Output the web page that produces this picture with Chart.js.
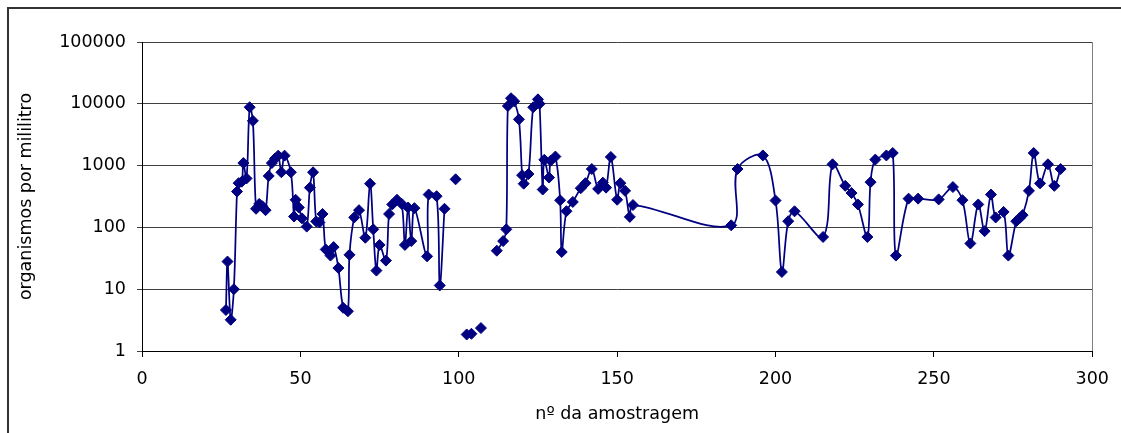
<!DOCTYPE html>
<html>
<head>
<meta charset="utf-8">
<script src="https://cdn.jsdelivr.net/npm/chart.js@4.4.1/dist/chart.umd.min.js"></script>
<style>
  html, body { margin: 0; padding: 0; background: #fff; }
  #wrap { position: relative; width: 1121px; height: 433px; overflow: hidden; }
  #frame { position: absolute; left: 7px; top: 7px; width: 1200px; height: 500px;
           border-top: 2px solid #333; border-left: 2px solid #333; }
  canvas { position: absolute; left: 0; top: 0; }
</style>
</head>
<body>
<div id="wrap">
  <div id="frame"></div>
  <canvas id="grafico" width="1121" height="433"></canvas>
</div>
<script>
// nº da amostragem (null em organismos = sem dado, a linha é interrompida)
const amostra = [
  26.5, 27, 28, 29, 30, 30.5, 31.5, 32, 33, 34, 35, 36, 37, 38, 39, 40, 41, 42, 43, 44,
  45, 47, 48, 48.5, 49.5, 50.5, 52, 53, 54, 55, 56, 57, 58, 59.5, 60.5, 62, 63.5, 65, 65.5, 67,
  68.5, 70.5, 72, 73, 74, 75, 77, 78, 79, 80.5, 82, 83, 84, 85, 86, 90, 90.5, 93, 94, 95.5,
  97, 99, 101, 102.5, 103.3, 104, 105.5, 107, 109.5,
  112, 114, 115, 115.5, 116.5, 117.5, 119, 120, 120.5, 122, 123.5, 125, 125.5, 126.5, 127, 128.5, 129, 130.5, 132, 132.5,
  134, 136, 138.5, 140, 142, 144, 145.5, 146.5, 148, 150, 151, 152.5, 154, 155, 186, 188, 196, 200, 202, 204,
  206, 215, 218, 222, 224, 226, 229, 230, 231.5, 235, 237, 238, 242, 245, 251.5, 256, 259, 261.5, 264, 266,
  268, 269.5, 272, 273.5, 276, 277, 278, 280, 281.5, 283.5, 286, 288, 290
];
// organismos por mililitro
const organismos = [
  4.6, 28, 3.2, 10, 380, 520, 550, 1100, 620, 8800, 5300, 200, 240, 220, 190, 680, 1100, 1300, 1450, 780,
  1450, 780, 150, 280, 210, 140, 103, 440, 780, 125, 120, 165, 44, 35, 48, 22, 5.0, 4.4, 36, 145,
  190, 68, 510, 93, 20, 52, 29, 165, 235, 280, 240, 52, 210, 60, 205, 34, 340, 320, 11.5, 200,
  null, 600, null, 1.85, null, 1.9, null, 2.35, null,
  42, 60, 93, 9200, 12300, 11000, 5600, 700, 510, 730, 8800, 11800, 10000, 410, 1240, 640, 1200, 1400, 275, 40,
  183, 258, 430, 520, 880, 420, 530, 440, 1380, 280, 520, 390, 148, 230, 108, 880, 1460, 272, 19, 126,
  182, 70, 1050, 470, 360, 235, 70, 540, 1250, 1460, 1600, 35, 292, 292, 284, 450, 276, 55, 235, 87,
  340, 145, 178, 35, 126, 140, 158, 390, 1600, 516, 1050, 470, 880
];
const yTicks = [1, 10, 100, 1000, 10000, 100000];
const xMin = 0, xMax = 300, xPasso = 50;

const cor = "#000080";
const fonte = { family: "DejaVu Sans", size: 17.5 };

const pontos = amostra.map((x, i) => ({ x: x, y: organismos[i] }));

// borda cinza do lado direito da área de plotagem
const bordaArea = {
  id: "bordaArea",
  beforeDatasetsDraw(chart) {
    const a = chart.chartArea;
    const ctx = chart.ctx;
    ctx.save();
    ctx.strokeStyle = "#808080";
    ctx.lineWidth = 1;
    ctx.beginPath();
    ctx.moveTo(Math.round(a.right) + 0.5, a.top);
    ctx.lineTo(Math.round(a.right) + 0.5, a.bottom);
    ctx.stroke();
    ctx.restore();
  },
};

new Chart(document.getElementById("grafico"), {
  type: "line",
  data: {
    datasets: [
      {
        data: pontos,
        borderColor: cor,
        backgroundColor: cor,
        borderWidth: 1.75,
        tension: 0.35,
        spanGaps: false,
        pointStyle: "rectRot",
        pointRadius: 5.5,
        pointBorderWidth: 1,
        pointBackgroundColor: cor,
        pointBorderColor: cor,
      },
    ],
  },
  options: {
    responsive: false,
    animation: false,
    devicePixelRatio: 1,
    layout: { padding: { top: 42, right: 28, left: 0, bottom: 0 } },
    plugins: {
      legend: { display: false },
      tooltip: { enabled: false },
    },
    scales: {
      x: {
        type: "linear",
        min: xMin,
        max: xMax,
        afterFit: (s) => { s.height = 82; },
        ticks: { stepSize: xPasso, color: "#000", font: fonte, padding: 12, maxRotation: 0 },
        grid: { drawOnChartArea: false, drawTicks: true, tickLength: 6, color: "#000" },
        border: { color: "#000", width: 1 },
        title: { display: true, text: "nº da amostragem", color: "#000", font: fonte, padding: { top: 0, bottom: 8 } },
      },
      y: {
        type: "logarithmic",
        min: 1,
        max: 100000,
        afterFit: (s) => { s.width = 142; },
        afterBuildTicks: (s) => { s.ticks = yTicks.map((v) => ({ value: v })); },
        ticks: { color: "#000", font: fonte, padding: 11, callback: (v) => String(v) },
        grid: { color: "#404040", tickLength: 5 },
        border: { color: "#000", width: 1 },
        title: { display: true, text: "organismos por mililitro", color: "#000", font: fonte, padding: { top: 16, bottom: 0 } },
      },
    },
  },
  plugins: [bordaArea],
});
</script>
</body>
</html>
